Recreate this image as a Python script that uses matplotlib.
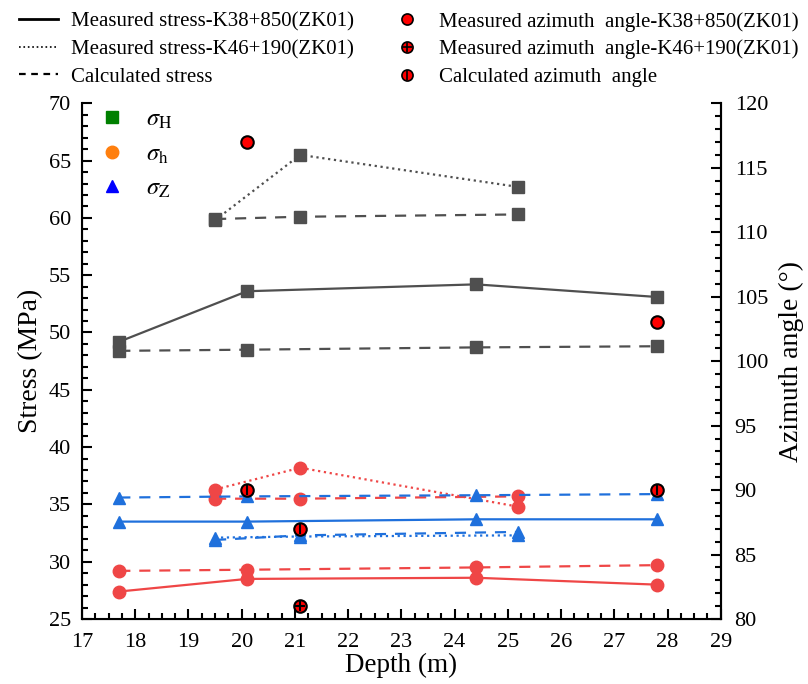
import matplotlib
matplotlib.use("Agg")
import matplotlib.pyplot as plt
from matplotlib.lines import Line2D
from matplotlib.legend_handler import HandlerTuple
from matplotlib.ticker import MultipleLocator

plt.rcParams['font.family'] = ['Liberation Serif', 'DejaVu Serif']
plt.rcParams['mathtext.fontset'] = 'stix'

# depths (m)
depth_k38 = [17.7, 20.1, 24.4, 27.8]
depth_k46 = [19.5, 21.1, 25.2]

# stresses (MPa), K38+850
sH_meas_k38 = [49.2, 53.6, 54.2, 53.1]
sH_calc_k38 = [48.4, 48.5, 48.7, 48.8]
sh_meas_k38 = [27.4, 28.5, 28.6, 28.0]
sh_calc_k38 = [29.2, 29.3, 29.5, 29.7]
sZ_meas_k38 = [33.5, 33.5, 33.7, 33.7]
sZ_calc_k38 = [35.6, 35.7, 35.8, 35.9]

# stresses (MPa), K46+190
sH_meas_k46 = [59.8, 65.5, 62.7]
sH_calc_k46 = [59.9, 60.1, 60.3]
sh_meas_k46 = [36.3, 38.2, 34.8]
sh_calc_k46 = [35.5, 35.5, 35.7]
sZ_meas_k46 = [32.1, 32.2, 32.3]
sZ_calc_k46 = [31.9, 32.3, 32.6]

# azimuth angles (deg)
az_meas_k38_depth = [20.1, 27.8]
az_meas_k38 = [117.0, 103.0]
az_meas_k46_depth = [21.1]
az_meas_k46 = [81.0]
az_calc_depth = [20.1, 21.1, 27.8]
az_calc = [90.0, 87.0, 90.0]

GRAY = '#4f4f4f'
RED = '#ef4646'
BLUE = '#1f70dc'

fig = plt.figure(figsize=(8.08, 6.84), dpi=100)
ax = fig.add_axes([0.1015, 0.095, 0.7905, 0.754])

dash = (5, 4)
lw = 1.6
ms = 9


def series(x, y, color, marker, style):
    kw = dict(color=color, lw=lw, marker=marker, ms=ms, mec=color)
    if style == 'solid':
        ax.plot(x, y, '-', **kw)
    elif style == 'dotted':
        ax.plot(x, y, ':', **kw)
    else:
        ax.plot(x, y, '--', dashes=dash, **kw)


series(depth_k38, sH_meas_k38, GRAY, 's', 'solid')
series(depth_k38, sH_calc_k38, GRAY, 's', 'dashed')
series(depth_k46, sH_meas_k46, GRAY, 's', 'dotted')
series(depth_k46, sH_calc_k46, GRAY, 's', 'dashed')

series(depth_k38, sh_meas_k38, RED, 'o', 'solid')
series(depth_k38, sh_calc_k38, RED, 'o', 'dashed')
series(depth_k46, sh_meas_k46, RED, 'o', 'dotted')
series(depth_k46, sh_calc_k46, RED, 'o', 'dashed')

series(depth_k38, sZ_meas_k38, BLUE, '^', 'solid')
series(depth_k38, sZ_calc_k38, BLUE, '^', 'dashed')
series(depth_k46, sZ_meas_k46, BLUE, '^', 'dotted')
series(depth_k46, sZ_calc_k46, BLUE, '^', 'dashed')

ax.set_xlim(17, 29)
ax.set_ylim(25, 70)
ax.xaxis.set_major_locator(MultipleLocator(1))
ax.xaxis.set_minor_locator(MultipleLocator(0.25))
ax.yaxis.set_major_locator(MultipleLocator(5))
ax.yaxis.set_minor_locator(MultipleLocator(1))
ax.tick_params(which='both', direction='in', labelsize=16, width=1.5)
ax.tick_params(which='major', length=7)
ax.tick_params(which='minor', length=4)
ax.tick_params(axis='x', which='both', pad=10)
ax.tick_params(axis='y', which='both', pad=8)
ax.set_xlabel('Depth (m)', fontsize=19.5, labelpad=1)
ax.set_ylabel('Stress (MPa)', fontsize=20, labelpad=4)
for s in ['left', 'bottom', 'right']:
    ax.spines[s].set_linewidth(1.5)
ax.spines['top'].set_visible(False)

ax2 = ax.twinx()
ax2.set_ylim(80, 120)
ax2.yaxis.set_major_locator(MultipleLocator(5))
ax2.yaxis.set_minor_locator(MultipleLocator(1))
ax2.tick_params(which='both', direction='in', labelsize=16, width=1.5, pad=10)
ax2.tick_params(which='major', length=7)
ax2.tick_params(which='minor', length=4)
ax2.spines['top'].set_visible(False)
ax2.spines['right'].set_linewidth(1.5)
ax2.set_ylabel('Azimuth angle (°)', fontsize=20, labelpad=8)

az_kw = dict(ls='none', marker='o', ms=9, mfc='#ff0000', mec='black', mew=1.5)
ax2.plot(az_meas_k38_depth, az_meas_k38, **az_kw)
ax2.plot(az_meas_k46_depth, az_meas_k46, **az_kw)
ax2.plot(az_meas_k46_depth, az_meas_k46, ls='none', marker='+', ms=7, mec='black', mew=1.5)
ax2.plot(az_calc_depth, az_calc, **az_kw)
ax2.plot(az_calc_depth, az_calc, ls='none', marker='|', ms=7, mec='black', mew=1.5)

# top legend
h_solid = Line2D([], [], color='black', lw=2, ls='-')
h_dot = Line2D([], [], color='black', lw=1.2, ls=':')
h_dash = Line2D([], [], color='black', lw=1.6, ls='--', dashes=(3, 2.5))
leg_az = dict(ls='none', marker='o', ms=8, mfc='#ff0000', mec='black', mew=1.2)
h_az1 = Line2D([], [], **leg_az)
h_az2 = (Line2D([], [], **leg_az),
         Line2D([], [], ls='none', marker='+', ms=7, mec='black', mew=1.2))
h_az3 = (Line2D([], [], **leg_az),
         Line2D([], [], ls='none', marker='|', ms=7, mec='black', mew=1.2))

handles = [h_solid, h_dot, h_dash, h_az1, h_az2, h_az3]
labels = ['Measured stress-K38+850(ZK01)', 'Measured stress-K46+190(ZK01)',
          'Calculated stress', 'Measured azimuth  angle-K38+850(ZK01)',
          'Measured azimuth  angle-K46+190(ZK01)', 'Calculated azimuth  angle']
fig.legend(handles, labels, ncol=2, loc='upper left', bbox_to_anchor=(0.0, 1.01),
           frameon=False, fontsize=15, handlelength=1.9, handletextpad=0.6,
           columnspacing=1.6, labelspacing=0.38,
           handler_map={tuple: HandlerTuple(ndivide=1)})

# sigma legend inside the plot
s_handles = [Line2D([], [], ls='none', marker='s', ms=8, color='#008000'),
             Line2D([], [], ls='none', marker='o', ms=9, color='#ff7f0e'),
             Line2D([], [], ls='none', marker='^', ms=9, color='#0000ff')]
s_labels = [r'$\sigma_{\rm H}$', r'$\sigma_{\rm h}$', r'$\sigma_{\rm Z}$']
ax2.legend(s_handles, s_labels, loc='upper left', bbox_to_anchor=(0.0125, 1.008),
           borderaxespad=0, frameon=False, fontsize=17.5, handlelength=1.0,
           handletextpad=0.9, labelspacing=0.5)

fig.savefig('out.png', dpi=100)
